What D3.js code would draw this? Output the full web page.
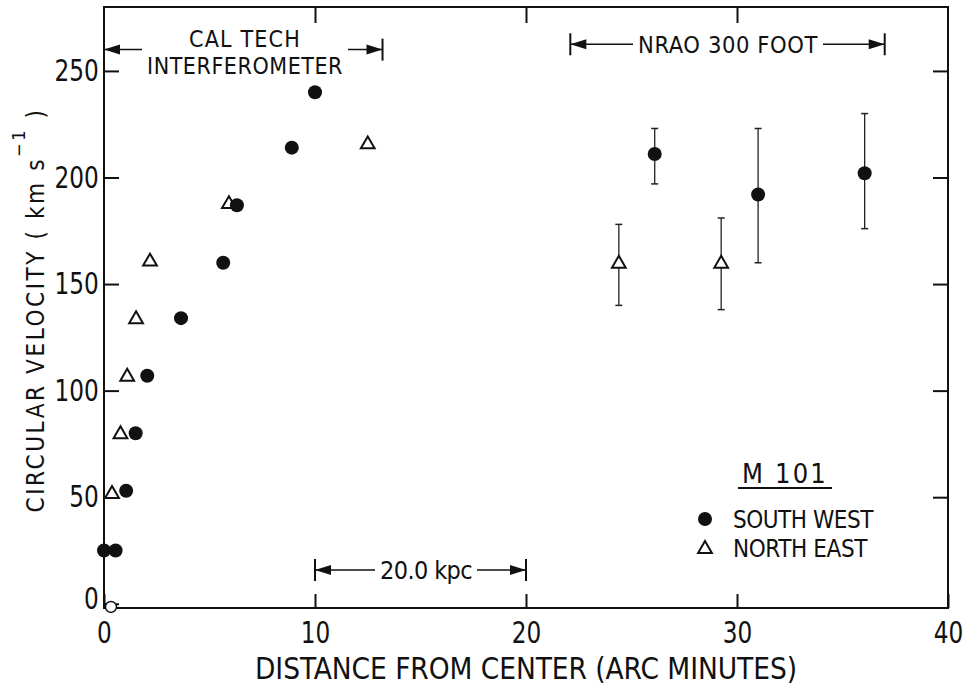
<!DOCTYPE html>
<html>
<head>
<meta charset="utf-8">
<script src="https://cdn.jsdelivr.net/npm/d3@7"></script>
<style>
  body { margin: 0; background: #fff; }
  text { font-family: "DejaVu Sans Condensed", "DejaVu Sans", sans-serif; fill: #111; }
</style>
</head>
<body>
<div id="chart"></div>
<script>
// South west side (filled circles), Cal Tech interferometer
const swDist = [0, 0.55, 1.05, 1.5, 2.05, 3.65, 5.65, 6.3, 8.9, 10.0];
const swVel = [25, 25, 53, 80, 107, 134, 160, 187, 214, 240];
// North east side (open triangles), Cal Tech interferometer
const neDist = [0.38, 0.78, 1.1, 1.52, 2.18, 5.92, 12.5];
const neVel = [52, 80, 107, 134, 161, 188, 216];
// NRAO 300 foot points with error bars
const swNraoDist = [26.1, 31.0, 36.05];
const swNraoVel = [211, 192, 202];
const swNraoLo = [197, 160, 176];
const swNraoHi = [223, 223, 230];
const neNraoDist = [24.4, 29.25];
const neNraoVel = [160, 160];
const neNraoLo = [140, 138];
const neNraoHi = [178, 181];

const xTicks = [0, 10, 20, 30, 40];
const yTicks = [0, 50, 100, 150, 200, 250];

// range brackets drawn as annotations
const brackets = [
  { x0: 0, x1: 13.2, y: 260, label: null, gap: [142, 348] },
  { x0: 22.1, x1: 37.0, y: 262.5, label: "NRAO 300 FOOT", gap: [633, 823], size: 23.5 },
  { x0: 10, x1: 20, y: 15.8, label: "20.0 kpc", gap: [375, 477], size: 25 }
];

const width = 971, height = 686;
const x = d3.scaleLinear().domain([0, 40]).range([104, 948]);
const y = d3.scaleLinear().domain([-2, 280]).range([608, 7]);

const svg = d3.select("#chart").append("svg")
  .attr("width", width)
  .attr("height", height);

const ink = "#111";

// stretch a text with letter spacing so it covers the width seen in the scan
function fitWidth(t, target) {
  const n = t.text().length;
  const w = t.node().getComputedTextLength();
  t.attr("letter-spacing", (target - w) / n);
}

// frame
svg.append("rect")
  .attr("x", x(0)).attr("y", y(280))
  .attr("width", x(40) - x(0)).attr("height", y(-2) - y(280))
  .attr("fill", "none").attr("stroke", ink).attr("stroke-width", 2);

// axes (ticks pointing inward)
const gx = svg.append("g")
  .attr("transform", `translate(0,${y(-2)})`)
  .call(d3.axisBottom(x).tickValues(xTicks).tickSizeInner(-14).tickSizeOuter(0).tickPadding(14));
const gy = svg.append("g")
  .attr("transform", `translate(${x(0)},0)`)
  .call(d3.axisLeft(y).tickValues(yTicks).tickSizeInner(-15).tickSizeOuter(0).tickPadding(6));
const gt = svg.append("g")
  .attr("transform", `translate(0,${y(280)})`)
  .call(d3.axisTop(x).tickValues([10, 20, 30]).tickSizeInner(-16).tickSizeOuter(0).tickFormat(""));
const gr = svg.append("g")
  .attr("transform", `translate(${x(40)},0)`)
  .call(d3.axisRight(y).tickValues([50, 100, 150, 200, 250]).tickSizeInner(-15).tickSizeOuter(0).tickFormat(""));

[gx, gy, gt, gr].forEach(g => {
  g.select(".domain").remove();
  g.selectAll(".tick line").attr("stroke", ink).attr("stroke-width", 2);
  g.selectAll(".tick text")
    .attr("font-size", 30)
    .attr("font-family", null)
    .attr("transform", "scale(0.86,1)")
    .style("fill", ink);
});
gy.selectAll(".tick").filter(d => d === 0).select("text").attr("dy", "0.15em");

// axis titles
const xt = svg.append("text")
  .attr("x", 526).attr("y", 679)
  .attr("text-anchor", "middle")
  .attr("font-size", 29.5)
  .text("DISTANCE FROM CENTER (ARC MINUTES)");
fitWidth(xt, 542);

const yt = svg.append("text")
  .attr("transform", "translate(44,310) rotate(-90)")
  .attr("text-anchor", "middle")
  .attr("font-family", "DejaVu Sans")
  .attr("font-size", 24);
yt.append("tspan").text("CIRCULAR VELOCITY ( km s");
yt.append("tspan").attr("dy", -19).attr("font-size", 18).text("−1");
yt.append("tspan").attr("dy", 19).text(" )");
fitWidth(yt, 405);

// brackets with arrows
function arrowHead(px, py, dir) {
  const len = 16, half = 5;
  svg.append("path")
    .attr("d", `M${px},${py} L${px - dir * len},${py - half} L${px - dir * len},${py + half} Z`)
    .attr("fill", ink);
}
brackets.forEach(b => {
  const xa = x(b.x0), xb = x(b.x1), yy = y(b.y);
  [xa, xb].forEach(xx => {
    svg.append("line")
      .attr("x1", xx).attr("x2", xx)
      .attr("y1", yy - 11).attr("y2", yy + 11)
      .attr("stroke", ink).attr("stroke-width", 2);
  });
  svg.append("line").attr("x1", xa).attr("x2", b.gap[0]).attr("y1", yy).attr("y2", yy)
    .attr("stroke", ink).attr("stroke-width", 1.5);
  svg.append("line").attr("x1", b.gap[1]).attr("x2", xb).attr("y1", yy).attr("y2", yy)
    .attr("stroke", ink).attr("stroke-width", 1.5);
  arrowHead(xa, yy, -1);
  arrowHead(xb, yy, 1);
  if (b.label) {
    const t = svg.append("text")
      .attr("x", (b.gap[0] + b.gap[1]) / 2).attr("y", yy + 9)
      .attr("text-anchor", "middle")
      .attr("font-size", b.size)
      .text(b.label);
    fitWidth(t, b.gap[1] - b.gap[0] - 10);
  }
});
const ct1 = svg.append("text").attr("x", 245).attr("y", 47)
  .attr("text-anchor", "middle").attr("font-size", 23).text("CAL TECH");
fitWidth(ct1, 112);
const ct2 = svg.append("text").attr("x", 245).attr("y", 74)
  .attr("text-anchor", "middle").attr("font-size", 23).text("INTERFEROMETER");
fitWidth(ct2, 196);

// symbols
const tri = d3.symbol().type(d3.symbolTriangle).size(82);

// error bars
function errorBars(dist, lo, hi) {
  dist.forEach((d, i) => {
    const xx = x(d);
    svg.append("line").attr("x1", xx).attr("x2", xx)
      .attr("y1", y(lo[i])).attr("y2", y(hi[i]))
      .attr("stroke", "#222").attr("stroke-width", 1.3);
    [lo[i], hi[i]].forEach(v => {
      svg.append("line").attr("x1", xx - 3.5).attr("x2", xx + 3.5)
        .attr("y1", y(v)).attr("y2", y(v))
        .attr("stroke", "#222").attr("stroke-width", 1.5);
    });
  });
}
errorBars(swNraoDist, swNraoLo, swNraoHi);
errorBars(neNraoDist, neNraoLo, neNraoHi);

const allNe = neDist.concat(neNraoDist).map((d, i) => [d, neVel.concat(neNraoVel)[i]]);
svg.append("g").selectAll("path")
  .data(allNe)
  .join("path")
  .attr("d", tri)
  .attr("transform", d => `translate(${x(d[0])},${y(d[1]) + 1})`)
  .attr("fill", "#fff")
  .attr("stroke", ink)
  .attr("stroke-width", 2);

const allSw = swDist.concat(swNraoDist).map((d, i) => [d, swVel.concat(swNraoVel)[i]]);
svg.append("g").selectAll("circle")
  .data(allSw)
  .join("circle")
  .attr("cx", d => x(d[0]))
  .attr("cy", d => y(d[1]))
  .attr("r", 7)
  .attr("fill", ink);

// open circle at the origin
svg.append("circle")
  .attr("cx", x(0.33)).attr("cy", y(-1.5)).attr("r", 5.5)
  .attr("fill", "#fff").attr("stroke", ink).attr("stroke-width", 1.5);

// legend
const lg = svg.append("g");
const m101 = lg.append("text").attr("x", 785).attr("y", 483)
  .attr("text-anchor", "middle").attr("font-size", 27).text("M 101");
fitWidth(m101, 86);
lg.append("line").attr("x1", 738).attr("x2", 832).attr("y1", 488).attr("y2", 488)
  .attr("stroke", ink).attr("stroke-width", 2);
lg.append("circle").attr("cx", 705).attr("cy", 519).attr("r", 7).attr("fill", ink);
lg.append("path").attr("d", tri)
  .attr("transform", "translate(705,549)")
  .attr("fill", "#fff").attr("stroke", ink).attr("stroke-width", 2);
const sw = lg.append("text").attr("x", 733).attr("y", 528).attr("font-size", 24).text("SOUTH WEST");
fitWidth(sw, 140);
const ne = lg.append("text").attr("x", 733).attr("y", 557).attr("font-size", 24).text("NORTH EAST");
fitWidth(ne, 134);
</script>
</body>
</html>
